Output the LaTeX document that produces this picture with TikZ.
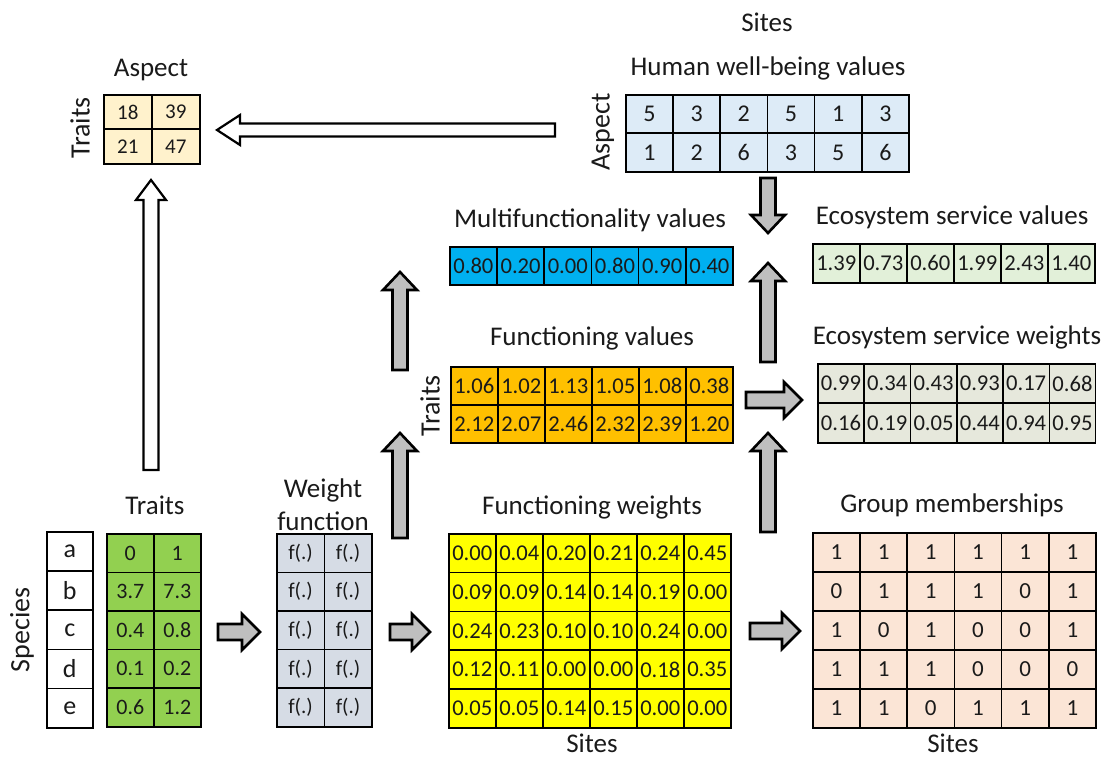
\documentclass[tikz,border=0pt]{standalone}
\usepackage{fontspec}
\setmainfont{Carlito}
\usetikzlibrary{calc}
\definecolor{aspectc}{HTML}{FFF2CC}
\definecolor{hwbc}{HTML}{DDEBF7}
\definecolor{mfc}{HTML}{00B0F0}
\definecolor{esvc}{HTML}{E2F0D9}
\definecolor{fvc}{HTML}{FFC000}
\definecolor{eswc}{HTML}{E6E8DC}
\definecolor{traitc}{HTML}{92D050}
\definecolor{wfc}{HTML}{D6DCE5}
\definecolor{fwc}{HTML}{FFFF00}
\definecolor{gmc}{HTML}{FBE5D6}
\definecolor{arrowgray}{HTML}{BFBFBF}
\definecolor{txt}{HTML}{1A1A1A}
\newcommand\mygrid[7]{%
  \foreach \r [count=\i] in {#7} {
    \foreach \v [count=\j] in \r {
      \node[cell, #6, minimum width={#4*0.5pt}, minimum height={#5*0.5pt}, anchor=north west]
        (#1-\i-\j) at ({#2+(\j-1)*#4},{#3+(\i-1)*#5}) {\v};
    }
  }
}
\tikzset{
  cell/.style={draw=black, line width=0.8pt, inner sep=0pt, text=txt, font=\fontsize{11.3}{12}\selectfont},
  title/.style={inner sep=0pt, text=txt, font=\fontsize{13.5}{16}\selectfont},
  vlabel/.style={title, rotate=90, font=\fontsize{14}{16}\selectfont},
  grayarrow/.style={draw=black, line width=1.3pt, fill=arrowgray},
  whitearrow/.style={draw=black, line width=1.1pt, fill=white},
  pics/barrow/.style args={#1/#2/#3/#4}{code={
    \path[pic actions] (0,-#2) -- ({#1-#4},-#2) -- ({#1-#4},-#3) -- (#1,0)
      -- ({#1-#4},#3) -- ({#1-#4},#2) -- (0,#2) -- cycle;
  }}
}
\begin{document}
\begin{tikzpicture}[x=0.5pt,y=-0.5pt]
\useasboundingbox (0,0) rectangle (1102,758);

% ---- grids ----
\mygrid{A}{103}{94}{48}{34.5}{fill=aspectc, font=\fontsize{10.5}{12}\selectfont}{{18,39},{21,47}}
\mygrid{H}{625}{94}{47.2}{38.5}{fill=hwbc, font=\fontsize{12}{13}\selectfont}{{5,3,2,5,1,3},{1,2,6,3,5,6}}
\mygrid{M}{449}{246}{47.2}{38}{fill=mfc}{{0.80,0.20,0.00,0.80,0.90,0.40}}
\mygrid{V}{812}{243}{47}{39}{fill=esvc}{{1.39,0.73,0.60,1.99,2.43,1.40}}
\mygrid{F}{450}{366}{47}{38}{fill=fvc}{{1.06,1.02,1.13,1.05,1.08,0.38},{2.12,2.07,2.46,2.32,2.39,1.20}}
\mygrid{W}{817}{363}{46.3}{39.5}{fill=eswc}{{0.99,0.34,0.43,0.93,0.17,0.68},{0.16,0.19,0.05,0.44,0.94,0.95}}
\mygrid{S}{46}{531}{46}{39.2}{fill=white, font=\fontsize{13}{14}\selectfont}{{a},{b},{c},{d},{e}}
\mygrid{T}{106}{533}{47}{38.6}{fill=traitc, font=\fontsize{11}{12}\selectfont}{{0,1},{3.7,7.3},{0.4,0.8},{0.1,0.2},{0.6,1.2}}
\mygrid{G}{276}{533}{47.5}{38.6}{fill=wfc, font=\fontsize{10.5}{12}\selectfont}{{f(.),f(.)},{f(.),f(.)},{f(.),f(.)},{f(.),f(.)},{f(.),f(.)}}
\mygrid{FW}{448}{533}{47}{38.8}{fill=fwc}{{0.00,0.04,0.20,0.21,0.24,0.45},{0.09,0.09,0.14,0.14,0.19,0.00},{0.24,0.23,0.10,0.10,0.24,0.00},{0.12,0.11,0.00,0.00,0.18,0.35},{0.05,0.05,0.14,0.15,0.00,0.00}}
\mygrid{GM}{812}{532}{47.2}{39}{fill=gmc, font=\fontsize{11.5}{12}\selectfont}{{1,1,1,1,1,1},{0,1,1,1,0,1},{1,0,1,0,0,1},{1,1,1,0,0,0},{1,1,0,1,1,1}}

% ---- labels ----
\node[title] (tA) at (151,70) {Aspect};
\node[vlabel] (lA) at (80,128) {Traits};
\node[title] (tSitesTop) at (767,22) {Sites};
\node[title] (tH) at (768,68) {Human well-being values};
\node[vlabel] (lH) at (603,132) {Aspect};
\node[title] (tM) at (590,220) {Multifunctionality values};
\node[title] (tV) at (952,217) {Ecosystem service values};
\node[title] (tF) at (592,338) {Functioning values};
\node[vlabel] (lF) at (430,406) {Traits};
\node[title] (tW) at (957,337) {Ecosystem service weights};
\node[title] (tT) at (155,505) {Traits};
\node[vlabel] (lS) at (22,630) {Species};
\node[title, align=center, font=\fontsize{13.5}{16.5}\selectfont] (tG) at (323,505) {Weight\\function};
\node[title] (tFW) at (592,507) {Functioning weights};
\node[title] (sFW) at (592,743) {Sites};
\node[title] (tGM) at (952,505) {Group memberships};
\node[title] (sGM) at (953,743) {Sites};

% ---- arrow anchors ----
\coordinate (wl) at (555,130);
\coordinate (wu) at (151,470);
\coordinate (r1) at (218,632);
\coordinate (r2) at (390,632);
\coordinate (r3) at (750,631);
\coordinate (r4) at (746,400);
\coordinate (u1) at (400,538);
\coordinate (u2) at (400,370);
\coordinate (u3) at (768,532);
\coordinate (u4) at (768,362);
\coordinate (d1) at (768,178);

% ---- arrows ----
\pic[whitearrow, rotate=180] at (wl) {barrow=338/6.5/15/23};
\pic[whitearrow, rotate=90] at (wu) {barrow=290/7.5/15/20};
\pic[grayarrow] at (r1) {barrow=42/8/18/18};
\pic[grayarrow] at (r2) {barrow=40/8/18/18};
\pic[grayarrow] at (r3) {barrow=50/8/18/18};
\pic[grayarrow] at (r4) {barrow=56/8/18/18};
\pic[grayarrow, rotate=90] at (u1) {barrow=105/7.5/17/18};
\pic[grayarrow, rotate=90] at (u2) {barrow=98/7.5/17/18};
\pic[grayarrow, rotate=90] at (u3) {barrow=99/7.5/17/18};
\pic[grayarrow, rotate=90] at (u4) {barrow=99/7.5/17/18};
\pic[grayarrow, rotate=-90] at (d1) {barrow=55/7.5/17/18};
\end{tikzpicture}
\end{document}
